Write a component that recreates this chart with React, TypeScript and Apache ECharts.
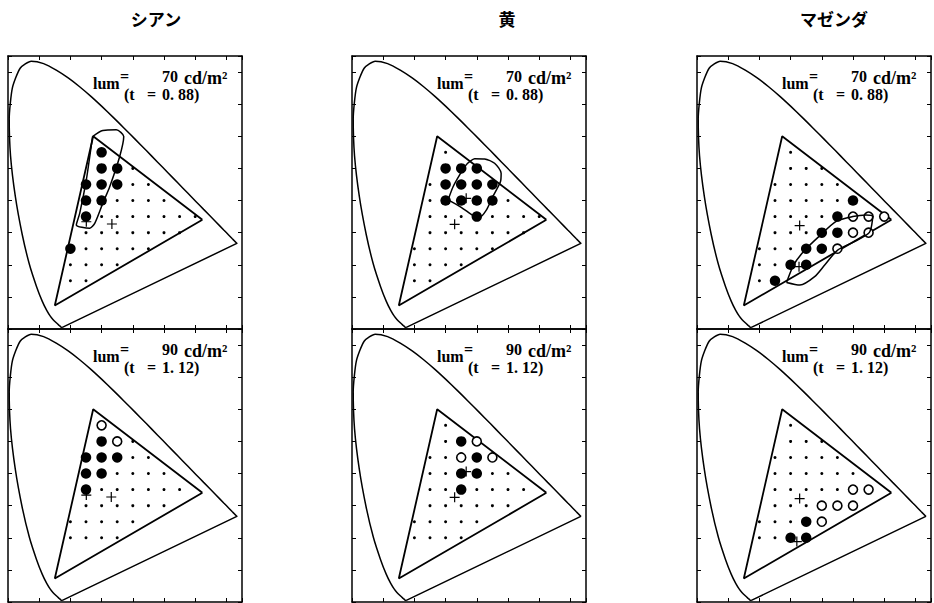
import React, { useEffect, useRef } from "react";
import * as echarts from "echarts";

// ---------- data ----------
const PANEL_TITLES = ["シアン", "黄", "マゼンダ"];
const LUM_VALUES = ["70", "90"];
const T_VALUES = ["0. 88)", "1. 12)"];

// CIE 1931 spectral locus (x, y), closed with the purple line
const LOCUS: number[][] = [
  [0.1741, 0.005], [0.1733, 0.0048], [0.1714, 0.0051], [0.1689, 0.0069], [0.1644, 0.0109],
  [0.1566, 0.0177], [0.144, 0.0297], [0.1355, 0.0399], [0.1241, 0.0578], [0.1096, 0.0868],
  [0.0913, 0.1327], [0.0687, 0.2007], [0.0454, 0.295], [0.0235, 0.4127], [0.0082, 0.5384],
  [0.0039, 0.6548], [0.0139, 0.7502], [0.0389, 0.812], [0.0743, 0.8338], [0.1142, 0.8262],
  [0.1547, 0.8059], [0.1929, 0.7816], [0.2296, 0.7543], [0.2658, 0.7243], [0.3016, 0.6923],
  [0.3373, 0.6589], [0.3731, 0.6245], [0.4087, 0.5896], [0.4441, 0.5547], [0.4788, 0.5202],
  [0.5125, 0.4866], [0.5448, 0.4544], [0.5752, 0.4242], [0.6029, 0.3965], [0.627, 0.3725],
  [0.6658, 0.334], [0.6915, 0.3083], [0.7079, 0.292], [0.719, 0.2809], [0.726, 0.274],
  [0.73, 0.27], [0.7334, 0.2666], [0.7347, 0.2653], [0.1741, 0.005],
];

// display gamut (R, G, B, R)
const GAMUT: number[][] = [[0.623, 0.34], [0.273, 0.6], [0.15, 0.073], [0.623, 0.34]];

// test grid rows: y value and the x values present
const GRID_ROWS_70 = [
  { y: 0.55, xs: [0.3] },
  { y: 0.5, xs: [0.3, 0.35, 0.4] },
  { y: 0.45, xs: [0.25, 0.3, 0.35, 0.4, 0.45] },
  { y: 0.4, xs: [0.25, 0.3, 0.35, 0.4, 0.45, 0.5] },
  { y: 0.35, xs: [0.25, 0.3, 0.35, 0.4, 0.45, 0.5, 0.55, 0.6] },
  { y: 0.3, xs: [0.25, 0.3, 0.35, 0.4, 0.45, 0.5, 0.55] },
  { y: 0.25, xs: [0.2, 0.25, 0.3, 0.35, 0.4, 0.45] },
  { y: 0.2, xs: [0.2, 0.25, 0.3, 0.35] },
  { y: 0.15, xs: [0.2, 0.25] },
];
const GRID_ROWS_90 = [
  { y: 0.55, xs: [0.3] },
  { y: 0.5, xs: [0.3, 0.35, 0.4] },
  { y: 0.45, xs: [0.25, 0.3, 0.35, 0.4, 0.45] },
  { y: 0.4, xs: [0.25, 0.3, 0.35, 0.4, 0.45, 0.5] },
  { y: 0.35, xs: [0.25, 0.3, 0.35, 0.4, 0.45, 0.5, 0.55] },
  { y: 0.3, xs: [0.25, 0.3, 0.35, 0.4, 0.45, 0.5] },
  { y: 0.25, xs: [0.2, 0.25, 0.3, 0.35, 0.4] },
  { y: 0.2, xs: [0.2, 0.25, 0.3, 0.35] },
];

// cyan
const FILLED_CYAN_70 = [[0.3, 0.55], [0.3, 0.5], [0.35, 0.5], [0.25, 0.45], [0.3, 0.45], [0.35, 0.45], [0.25, 0.4], [0.3, 0.4], [0.25, 0.35], [0.2, 0.25]];
const OPEN_CYAN_70: number[][] = [];
const CROSS_CYAN_70 = [[0.251, 0.334], [0.333, 0.327]];
const CONTOUR_CYAN = [[0.271, 0.599], [0.304, 0.618], [0.347, 0.62], [0.371, 0.599], [0.358, 0.537], [0.326, 0.443], [0.304, 0.392], [0.278, 0.329], [0.262, 0.314], [0.219, 0.324], [0.23, 0.361], [0.251, 0.464], [0.268, 0.578], [0.271, 0.599]];
const FILLED_CYAN_90 = [[0.3, 0.5], [0.25, 0.45], [0.3, 0.45], [0.35, 0.45], [0.25, 0.4], [0.3, 0.4], [0.25, 0.35]];
const OPEN_CYAN_90 = [[0.3, 0.55], [0.35, 0.5]];
const CROSS_CYAN_90 = [[0.251, 0.333], [0.331, 0.327]];

// yellow
const FILLED_YELLOW_70 = [[0.3, 0.5], [0.35, 0.5], [0.4, 0.5], [0.3, 0.45], [0.35, 0.45], [0.4, 0.45], [0.45, 0.45], [0.3, 0.4], [0.35, 0.4], [0.4, 0.4], [0.45, 0.4], [0.4, 0.35]];
const OPEN_YELLOW_70: number[][] = [];
const CROSS_YELLOW_70 = [[0.366, 0.407], [0.329, 0.326]];
const CONTOUR_YELLOW = [[0.308, 0.402], [0.324, 0.443], [0.345, 0.48], [0.366, 0.511], [0.377, 0.521], [0.393, 0.53], [0.425, 0.529], [0.457, 0.516], [0.478, 0.485], [0.476, 0.459], [0.451, 0.412], [0.431, 0.371], [0.409, 0.348], [0.393, 0.35], [0.35, 0.379], [0.308, 0.402]];
const FILLED_YELLOW_90 = [[0.35, 0.5], [0.4, 0.45], [0.35, 0.4], [0.4, 0.4], [0.35, 0.35]];
const OPEN_YELLOW_90 = [[0.4, 0.5], [0.35, 0.45], [0.45, 0.45]];
const CROSS_YELLOW_90 = [[0.366, 0.406], [0.329, 0.326]];

// magenta
const FILLED_MAGENTA_70 = [[0.5, 0.4], [0.45, 0.35], [0.4, 0.3], [0.45, 0.3], [0.35, 0.25], [0.4, 0.25], [0.3, 0.2], [0.35, 0.2], [0.25, 0.15]];
const OPEN_MAGENTA_70 = [[0.5, 0.35], [0.55, 0.35], [0.6, 0.35], [0.5, 0.3], [0.55, 0.3], [0.45, 0.25]];
const CROSS_MAGENTA_70 = [[0.327, 0.194], [0.329, 0.322]];
const CONTOUR_MAGENTA = [[0.287, 0.145], [0.31, 0.2], [0.345, 0.245], [0.393, 0.29], [0.446, 0.335], [0.499, 0.35], [0.542, 0.355], [0.563, 0.35], [0.552, 0.3], [0.5, 0.27], [0.45, 0.245], [0.41, 0.2], [0.377, 0.163], [0.33, 0.137], [0.287, 0.145]];
const FILLED_MAGENTA_90 = [[0.35, 0.25], [0.3, 0.2], [0.35, 0.2]];
const OPEN_MAGENTA_90 = [[0.5, 0.35], [0.55, 0.35], [0.4, 0.3], [0.45, 0.3], [0.5, 0.3], [0.4, 0.25]];
const CROSS_MAGENTA_90 = [[0.32, 0.188], [0.329, 0.322]];

// ---------- layout ----------
const GRID_LEFTS = [8, 352, 697];
const GRID_TOPS = [56, 329];
const GRID_W = 234;
const GRID_H = 273;
const TITLE_X = [156, 507, 834];
const TITLE_Y = 18;

const PLUS = "path://M4.4,0H5.6V4.4H10V5.6H5.6V10H4.4V5.6H0V4.4H4.4Z";
const SERIF = '"Liberation Serif"';

function buildOption() {
  const panels = [
    { rows: GRID_ROWS_70, filled: FILLED_CYAN_70, open: OPEN_CYAN_70, cross: CROSS_CYAN_70, contour: CONTOUR_CYAN },
    { rows: GRID_ROWS_70, filled: FILLED_YELLOW_70, open: OPEN_YELLOW_70, cross: CROSS_YELLOW_70, contour: CONTOUR_YELLOW },
    { rows: GRID_ROWS_70, filled: FILLED_MAGENTA_70, open: OPEN_MAGENTA_70, cross: CROSS_MAGENTA_70, contour: CONTOUR_MAGENTA },
    { rows: GRID_ROWS_90, filled: FILLED_CYAN_90, open: OPEN_CYAN_90, cross: CROSS_CYAN_90, contour: null },
    { rows: GRID_ROWS_90, filled: FILLED_YELLOW_90, open: OPEN_YELLOW_90, cross: CROSS_YELLOW_90, contour: null },
    { rows: GRID_ROWS_90, filled: FILLED_MAGENTA_90, open: OPEN_MAGENTA_90, cross: CROSS_MAGENTA_90, contour: null },
  ];

  const grids: any[] = [];
  const xAxes: any[] = [];
  const yAxes: any[] = [];
  const series: any[] = [];
  const graphics: any[] = [];

  const tick = { show: true, inside: true, length: 4, lineStyle: { color: "#000", width: 1 } };
  const line = { show: true, onZero: false, lineStyle: { color: "#000", width: 1.5 } };

  panels.forEach((p, i) => {
    const r = Math.floor(i / 3);
    const c = i % 3;
    const gl = GRID_LEFTS[c];
    const gt = GRID_TOPS[r];
    grids.push({ left: gl, top: gt, width: GRID_W, height: GRID_H, show: false });
    ["bottom", "top"].forEach((pos) => {
      xAxes.push({
        type: "value", gridIndex: i, position: pos, min: 0, max: 0.75, interval: 0.1,
        axisLine: line, axisTick: tick, axisLabel: { show: false }, splitLine: { show: false },
      });
    });
    ["left", "right"].forEach((pos) => {
      yAxes.push({
        type: "value", gridIndex: i, position: pos, min: 0, max: 0.85, interval: 0.1,
        axisLine: line, axisTick: tick, axisLabel: { show: false }, splitLine: { show: false },
      });
    });
    const ax = { xAxisIndex: 2 * i, yAxisIndex: 2 * i };
    series.push({
      type: "line", ...ax, data: LOCUS, showSymbol: false, symbol: "none", smooth: 0.2,
      lineStyle: { color: "#000", width: 1.5 }, z: 2, silent: true,
    });
    series.push({
      type: "line", ...ax, data: GAMUT, showSymbol: false, symbol: "none",
      lineStyle: { color: "#000", width: 1.8 }, z: 2, silent: true,
    });
    const dots: number[][] = [];
    p.rows.forEach((row) => row.xs.forEach((x) => dots.push([x, row.y])));
    series.push({
      type: "scatter", ...ax, data: dots, symbol: "circle", symbolSize: 3,
      itemStyle: { color: "#000", opacity: 1 }, z: 3, silent: true,
    });
    if (p.open.length) {
      series.push({
        type: "scatter", ...ax, data: p.open, symbol: "circle", symbolSize: 9,
        itemStyle: { color: "#fff", borderColor: "#000", borderWidth: 1.6, opacity: 1 }, z: 4, silent: true,
      });
    }
    if (p.contour) {
      series.push({
        type: "line", ...ax, data: p.contour, showSymbol: false, symbol: "none", smooth: 0.25,
        lineStyle: { color: "#000", width: 1.5 }, z: 5, silent: true,
      });
    }
    series.push({
      type: "scatter", ...ax, data: p.filled, symbol: "circle", symbolSize: 10.5,
      itemStyle: { color: "#000", opacity: 1 }, z: 6, silent: true,
    });
    series.push({
      type: "scatter", ...ax, data: p.cross, symbol: PLUS, symbolSize: 10,
      itemStyle: { color: "#000", opacity: 1 }, z: 7, silent: true,
    });

    // annotation texts (two lines, as in the original print)
    const lum = LUM_VALUES[r];
    const t = T_VALUES[r];
    const font = `bold 16px ${SERIF}`;
    const pieces = [
      { text: "lum", dx: 85, dy: 19 },
      { text: "=", dx: 112, dy: 12 },
      { text: lum, dx: 154, dy: 12 },
      { text: "cd/m²", dx: 176, dy: 13, size: 18 },
      { text: "(t", dx: 116, dy: 30 },
      { text: "=", dx: 139, dy: 30 },
      { text: t, dx: 154, dy: 30 },
    ];
    pieces.forEach((pc: any) => {
      graphics.push({
        type: "text", x: gl + pc.dx, y: gt + pc.dy, z: 10,
        style: {
          text: pc.text, font: pc.size ? `bold ${pc.size}px ${SERIF}` : font, fill: "#000",
          textAlign: "left", textVerticalAlign: "top",
        },
      });
    });
  });

  PANEL_TITLES.forEach((title, c) => {
    graphics.push({
      type: "text", x: TITLE_X[c], y: TITLE_Y, z: 10,
      style: {
        text: title, font: 'bold 17px "Noto Sans CJK JP"', fill: "#000",
        textAlign: "center", textVerticalAlign: "middle",
      },
    });
  });

  return {
    animation: false,
    backgroundColor: "#fff",
    grid: grids,
    xAxis: xAxes,
    yAxis: yAxes,
    series,
    graphic: graphics,
  };
}

export default function App() {
  const ref = useRef<HTMLDivElement>(null);
  useEffect(() => {
    const chart = echarts.init(ref.current!, null, { renderer: "svg" });
    chart.setOption(buildOption() as any);
    return () => chart.dispose();
  }, []);
  return (
    <div
      ref={ref}
      style={{ position: "fixed", left: 0, top: 0, width: 934, height: 603, background: "#fff" }}
    />
  );
}
